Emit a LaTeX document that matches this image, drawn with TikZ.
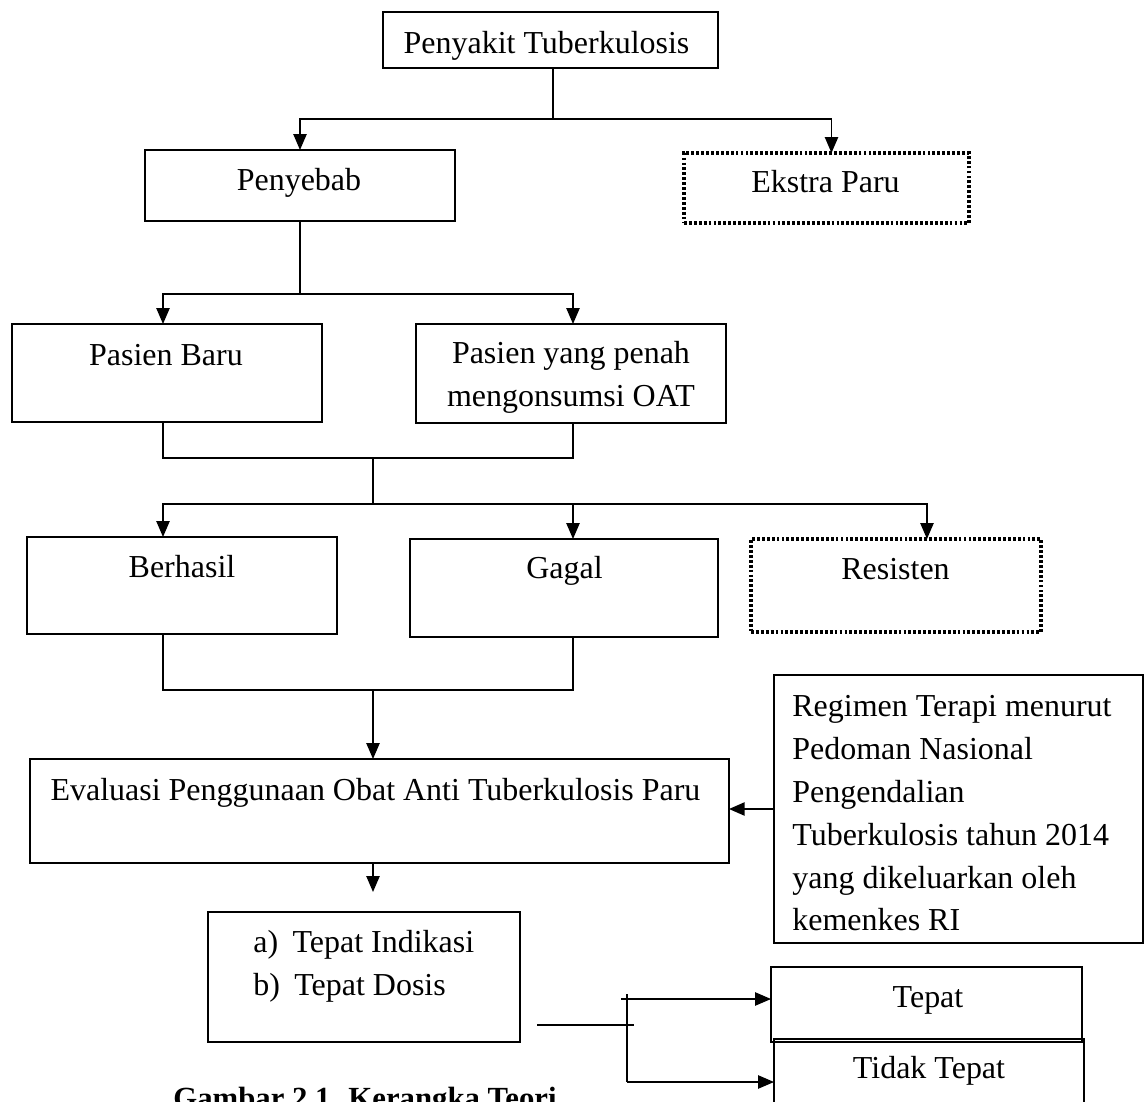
\documentclass[tikz,border=0pt]{standalone}
\usepackage{fontspec}
\setmainfont{Liberation Serif}
\usetikzlibrary{arrows.meta}

\begin{document}
\begin{tikzpicture}[x=0.02cm,y=-0.02cm,
  box/.style={draw,line width=1pt,inner sep=0pt,outer sep=0pt},
  dbox/.style={box,line width=2pt,dash pattern=on 1.6pt off 1.2pt},
  lin/.style={line width=0.8pt},
  arr/.style={lin,-{Triangle[length=9pt,width=7.5pt]}},
  font=\fontsize{18.2}{24.4}\selectfont]
\useasboundingbox (0,0) rectangle (1144,1102);
% boxes
\node[box,minimum width=6.70cm,minimum height=1.12cm] (pt) at (550.5,40) {};
\node[box,minimum width=6.20cm,minimum height=1.42cm] (penyebab) at (300,185.5) {};
\node[dbox,minimum width=5.70cm,minimum height=1.40cm] (ekstra) at (826.5,188) {};
\node[box,minimum width=6.20cm,minimum height=1.96cm] (baru) at (167,373) {};
\node[box,minimum width=6.20cm,minimum height=1.98cm] (oat) at (571,373.5) {};
\node[box,minimum width=6.20cm,minimum height=1.94cm] (berhasil) at (182,585.5) {};
\node[box,minimum width=6.16cm,minimum height=1.96cm] (gagal) at (564,588) {};
\node[dbox,minimum width=5.80cm,minimum height=1.86cm] (resisten) at (896,585.5) {};
\node[box,minimum width=13.98cm,minimum height=2.08cm] (evaluasi) at (379.5,811) {};
\node[box,minimum width=7.38cm,minimum height=5.36cm] (regimen) at (958.5,809) {};
\node[box,minimum width=6.24cm,minimum height=2.60cm] (tepatind) at (364,977) {};
\node[box,minimum width=6.22cm,minimum height=1.50cm] (tepat) at (926.5,1004.5) {};
\node[box,minimum width=6.20cm,minimum height=1.52cm] (tidak) at (929,1077) {};
% texts
\node (t-pt) at (546.5,45.5) {Penyakit Tuberkulosis};
\node (t-penyebab) at (299,182.5) {Penyebab};
\node (t-ekstra) at (825.5,182) {Ekstra Paru};
\node (t-baru) at (166,355) {Pasien Baru};
\node[align=center] (t-oat) at (571,377) {Pasien yang penah\\mengonsumsi OAT};
\node (t-berhasil) at (182,566.5) {Berhasil};
\node (t-gagal) at (564.5,570.5) {Gagal};
\node (t-resisten) at (895.5,569) {Resisten};
\node (t-evaluasi) at (375.5,792.5) {Evaluasi Penggunaan Obat Anti Tuberkulosis Paru};
\node[anchor=north west,align=left,inner sep=0pt] (t-regimen) at (792,695) {Regimen Terapi menurut\\Pedoman Nasional\\Pengendalian\\Tuberkulosis tahun 2014\\yang dikeluarkan oleh\\kemenkes RI};
\node[anchor=north west,align=left,inner sep=0pt] (t-tepatind) at (253,930) {a)\hspace{0.45em}Tepat Indikasi\\b)\hspace{0.45em}Tepat Dosis};
\node (t-tepat) at (928,1000) {Tepat};
\node (t-tidak) at (929,1070.5) {Tidak Tepat};
\node[anchor=base,font=\fontsize{17.5}{24.4}\selectfont\bfseries] (caption) at (365,1108) {Gambar 2.1. Kerangka Teori};
% connectors
\coordinate (j1) at (553,119);
\draw[lin] (j1 |- pt.south) -- (j1);
\draw[arr] (j1) -| (penyebab.north);
\draw[arr] (j1) -| ([xshift=0.1cm]ekstra.north);
\coordinate (j2) at (300,294);
\draw[lin] (penyebab.south) -- (j2);
\draw[arr] (j2) -| ([xshift=-0.08cm]baru.north);
\draw[arr] (j2) -| ([xshift=0.04cm]oat.north);
\coordinate (j3) at (373,458);
\draw[lin] ([xshift=-0.08cm]baru.south) |- (j3) -| ([xshift=0.04cm]oat.south);
\coordinate (j4) at (373,504);
\draw[lin] (j3) -- (j4);
\draw[arr] (j4) -| ([xshift=-0.38cm]berhasil.north);
\draw[arr] (j4) -| ([xshift=0.18cm]gagal.north);
\draw[arr] (j4) -| ([xshift=0.62cm]resisten.north);
\coordinate (j5) at (373,690);
\draw[lin] ([xshift=-0.38cm]berhasil.south) |- (j5) -| ([xshift=0.18cm]gagal.south);
\draw[arr] (j5) -- (j5 |- evaluasi.north);
\coordinate (e1) at (373,892);
\draw[arr] (e1 |- evaluasi.south) -- (e1);
\draw[arr,line width=1.2pt] (regimen.west) -- (regimen.west -| evaluasi.east);
\coordinate (k1) at (537,1025);
\coordinate (k2) at (634,1025);
\draw[lin] (k1) -- (k2);
\coordinate (k3) at (621,999);
\coordinate (k4) at (627,994);
\coordinate (k5) at (627,1082);
\draw[lin] (k4) -- (k5);
\draw[arr] (k3) -- (k3 -| tepat.west);
\draw[arr] (k5) -- (k5 -| tidak.west);
\end{tikzpicture}
\end{document}
